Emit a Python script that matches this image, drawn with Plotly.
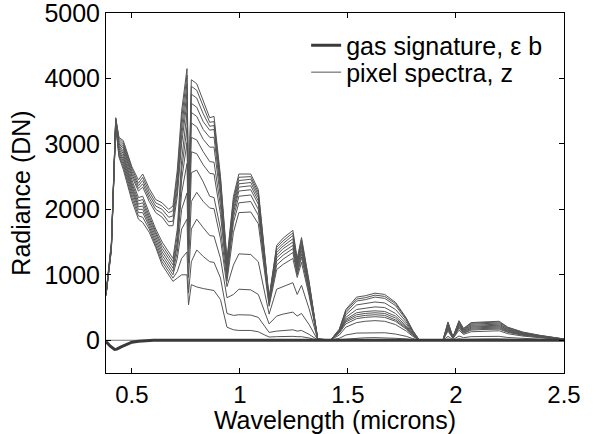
import plotly.graph_objects as go

# wavelength grid (microns)
wavelength = [0.38, 0.405, 0.425, 0.44, 0.46, 0.48, 0.50, 0.53, 0.55, 0.58,
              0.61, 0.64, 0.67, 0.69, 0.71, 0.73, 0.755, 0.762, 0.775, 0.80,
              0.83, 0.86, 0.88, 0.91, 0.94, 0.97, 0.995, 1.05, 1.085, 1.115,
              1.135, 1.17, 1.20, 1.245, 1.265, 1.285, 1.32, 1.36, 1.42, 1.46,
              1.49, 1.54, 1.58, 1.625, 1.67, 1.72, 1.77, 1.80, 1.83, 1.94,
              1.963, 1.986, 2.014, 2.035, 2.07, 2.13, 2.20, 2.24, 2.31, 2.39, 2.45, 2.50]

# pixel spectra z (radiance, DN)
px01 = [720, 1500, 3400, 3100, 3050, 2850, 2650, 2450, 2540, 2320,
        2150, 2100, 2000, 2050, 2600, 3500, 4150, 2100, 3980, 3920,
        3650, 3400, 3420, 2500, 1230, 2200, 2540, 2540, 2300, 1300,
        650, 1450, 1560, 1680, 1250, 1570, 900, 20, 5, 170,
        470, 660, 680, 720, 700, 580, 340, 150, 5, 5,
        280, 50, 300, 180, 270, 280, 290, 200, 125, 75, 45, 20]
px02 = [710, 1480, 3390, 3080, 3020, 2820, 2620, 2400, 2490, 2270,
        2100, 2050, 1950, 1980, 2500, 3380, 4050, 2050, 3880, 3820,
        3560, 3330, 3340, 2450, 1200, 2150, 2490, 2500, 2260, 1280,
        640, 1420, 1520, 1640, 1220, 1540, 880, 20, 5, 165,
        450, 630, 650, 690, 670, 560, 330, 145, 5, 5,
        270, 48, 290, 175, 260, 270, 278, 192, 120, 72, 43, 19]
px03 = [700, 1470, 3380, 3050, 2990, 2790, 2580, 2360, 2440, 2220,
        2050, 2000, 1880, 1900, 2400, 3250, 3920, 1990, 3760, 3700,
        3460, 3270, 3280, 2400, 1170, 2100, 2440, 2460, 2220, 1250,
        630, 1380, 1480, 1600, 1180, 1500, 860, 20, 5, 160,
        420, 600, 620, 660, 640, 530, 310, 135, 5, 5,
        255, 45, 275, 165, 245, 255, 262, 182, 113, 68, 41, 18]
px04 = [700, 1460, 3370, 3020, 2960, 2750, 2540, 2320, 2390, 2170,
        2000, 1940, 1810, 1820, 2300, 3120, 3780, 1930, 3620, 3560,
        3340, 3210, 3220, 2350, 1140, 2060, 2390, 2410, 2180, 1220,
        620, 1340, 1440, 1550, 1150, 1460, 840, 15, 5, 150,
        390, 540, 560, 585, 570, 470, 280, 125, 5, 5,
        240, 42, 260, 155, 230, 240, 246, 170, 106, 64, 38, 17]
px05 = [690, 1450, 3360, 3000, 2930, 2710, 2500, 2280, 2340, 2120,
        1950, 1880, 1750, 1750, 2200, 3000, 3640, 1860, 3480, 3420,
        3220, 3100, 3100, 2280, 1100, 2000, 2340, 2360, 2130, 1190,
        600, 1300, 1400, 1500, 1110, 1420, 810, 15, 5, 140,
        350, 470, 490, 510, 500, 410, 250, 110, 4, 4,
        225, 40, 245, 145, 215, 225, 230, 160, 100, 60, 36, 16]
px06 = [700, 1440, 3350, 2980, 2890, 2660, 2450, 2180, 2200, 1950,
        1700, 1500, 1350, 1250, 1700, 2750, 3480, 1780, 3320, 3260,
        3070, 2950, 2950, 2180, 1060, 1950, 2280, 2300, 2080, 1160,
        590, 1260, 1350, 1450, 1070, 1370, 780, 15, 5, 130,
        320, 420, 440, 450, 440, 370, 220, 100, 4, 4,
        210, 38, 230, 135, 200, 210, 215, 150, 94, 56, 34, 15]
px07 = [690, 1430, 3340, 2960, 2850, 2610, 2400, 2130, 2150, 1900,
        1660, 1450, 1300, 1200, 1600, 2600, 3250, 1680, 3100, 3060,
        2880, 2730, 2720, 2050, 1010, 1880, 2200, 2220, 2000, 1120,
        570, 1210, 1300, 1400, 1030, 1320, 750, 15, 5, 125,
        300, 390, 410, 420, 410, 340, 200, 90, 4, 4,
        195, 35, 215, 125, 185, 195, 200, 140, 88, 52, 32, 14]
px08 = [680, 1420, 3330, 2930, 2810, 2570, 2360, 2080, 2100, 1860,
        1620, 1400, 1250, 1150, 1500, 2450, 3020, 1560, 2880, 2850,
        2680, 2550, 2540, 1920, 960, 1800, 2100, 2120, 1910, 1080,
        550, 1150, 1240, 1340, 1000, 1270, 720, 15, 5, 120,
        280, 360, 380, 390, 380, 310, 185, 85, 3, 3,
        180, 32, 200, 115, 170, 180, 185, 130, 82, 48, 30, 13]
px09 = [700, 1430, 3320, 2900, 2770, 2530, 2320, 2040, 2050, 1820,
        1580, 1350, 1200, 1100, 1450, 2250, 2700, 1400, 2560, 2600,
        2420, 2200, 2180, 1700, 900, 1650, 1950, 1960, 1780, 1000,
        520, 1080, 1160, 1250, 960, 1190, 680, 10, 5, 110,
        250, 330, 350, 360, 350, 290, 170, 75, 3, 3,
        165, 30, 185, 105, 155, 165, 170, 120, 76, 45, 28, 12]
px10 = [690, 1410, 3310, 2880, 2730, 2490, 2280, 2000, 2000, 1780,
        1540, 1300, 1150, 1050, 1350, 2000, 2250, 1180, 2120, 2260,
        2120, 2020, 2010, 1550, 820, 1150, 1320, 1310, 1200, 700,
        400, 780, 820, 880, 700, 840, 480, 10, 5, 80,
        200, 270, 290, 300, 290, 240, 140, 60, 3, 3,
        140, 25, 155, 90, 130, 140, 145, 100, 64, 38, 23, 10]
px11 = [680, 1400, 3300, 2850, 2690, 2450, 2230, 1950, 1950, 1740,
        1500, 1250, 1100, 1000, 1250, 1700, 1850, 960, 1700, 1850,
        1720, 1600, 1590, 1250, 650, 700, 780, 770, 700, 420,
        250, 370, 400, 430, 370, 410, 240, 5, 2, 30,
        80, 110, 115, 120, 115, 95, 60, 25, 1, 1,
        60, 10, 65, 40, 55, 58, 60, 42, 27, 16, 10, 4]
px12 = [700, 1390, 3290, 2820, 2650, 2400, 2180, 1900, 1880, 1700,
        1460, 1200, 1050, 950, 1050, 1250, 1350, 720, 1200, 1380,
        1280, 1200, 1190, 950, 410, 380, 390, 385, 350, 200,
        120, 140, 150, 160, 140, 150, 90, 5, 1, 10,
        25, 35, 38, 40, 38, 30, 20, 8, 0, 0,
        20, 4, 22, 13, 18, 19, 20, 14, 9, 5, 3, 1]
px13 = [690, 1380, 3280, 2800, 2610, 2350, 2130, 1850, 1800, 1650,
        1420, 1150, 1000, 900, 950, 1000, 1000, 540, 850, 815,
        790, 770, 760, 620, 200, 160, 150, 150, 130, 80,
        50, 55, 60, 60, 55, 55, 35, 0, 0, 0,
        5, 8, 8, 10, 9, 8, 5, 2, 0, 0,
        5, 1, 6, 3, 5, 5, 5, 4, 2, 1, 1, 0]

# gas signature (epsilon * b)
gas_wavelength = [0.38, 0.40, 0.42, 0.43, 0.45, 0.48, 0.50, 0.53, 0.56, 0.60, 2.50]
gas_signature = [-20, -90, -140, -135, -100, -55, -30, -15, -5, 0, 0]

# zero reference
zero_wavelength = [0.38, 2.50]
zero_level = [0, 0]

FONT = "Liberation Sans, Arial, Helvetica, sans-serif"
PIX_COLOR = "#555555"
GAS_COLOR = "#3a3a3a"

fig = go.Figure()
pixels = [px01, px02, px03, px04, px05, px06, px07, px08, px09, px10, px11, px12, px13]
for i, z in enumerate(pixels):
    fig.add_trace(go.Scatter(
        x=wavelength, y=z, mode="lines",
        line=dict(color=PIX_COLOR, width=1),
        name="pixel spectra, z", showlegend=(i == 0), legend="legend2",
        hoverinfo="skip"))

fig.add_trace(go.Scatter(
    x=zero_wavelength, y=zero_level, mode="lines",
    line=dict(color="#777777", width=1), showlegend=False, hoverinfo="skip"))

fig.add_trace(go.Scatter(
    x=gas_wavelength, y=gas_signature, mode="lines",
    line=dict(color=GAS_COLOR, width=3),
    name="gas signature, \u03b5 b", legend="legend", hoverinfo="skip"))

legend_common = dict(
    xanchor="left", yanchor="middle", bgcolor="rgba(0,0,0,0)",
    font=dict(family=FONT, size=25, color="black"),
    itemwidth=30, tracegroupgap=0)

fig.update_layout(
    template="none",
    width=598, height=434,
    margin=dict(l=106, r=34, t=13, b=61),
    paper_bgcolor="white", plot_bgcolor="white",
    font=dict(family=FONT, size=25, color="black"),
    legend=dict(x=0.437, y=0.91, **legend_common),
    legend2=dict(x=0.437, y=0.835, **legend_common),
)

fig.update_xaxes(
    range=[0.38, 2.5], tickvals=[0.5, 1, 1.5, 2, 2.5],
    ticktext=["0.5", "1", "1.5", "2", "2.5"],
    ticks="inside", ticklen=5, tickcolor="black", tickwidth=1,
    showline=True, linecolor="black", linewidth=1, mirror="ticks",
    showgrid=False, zeroline=False, automargin=False,
    ticklabeloverflow="allow",
    tickfont=dict(family=FONT, size=24, color="black"),
    title=dict(text="Wavelength (microns)", standoff=6,
               font=dict(family=FONT, size=25, color="black")),
)
fig.update_yaxes(
    range=[-500, 5000], tickvals=[0, 1000, 2000, 3000, 4000, 5000],
    ticks="inside", ticklen=5, tickcolor="black", tickwidth=1,
    showline=True, linecolor="black", linewidth=1, mirror="ticks",
    showgrid=False, zeroline=False, automargin=False,
    ticklabeloverflow="allow",
    tickfont=dict(family=FONT, size=25, color="black"),
    title=dict(text="Radiance (DN)", standoff=6,
               font=dict(family=FONT, size=25, color="black")),
)

fig.write_html("out.html")
